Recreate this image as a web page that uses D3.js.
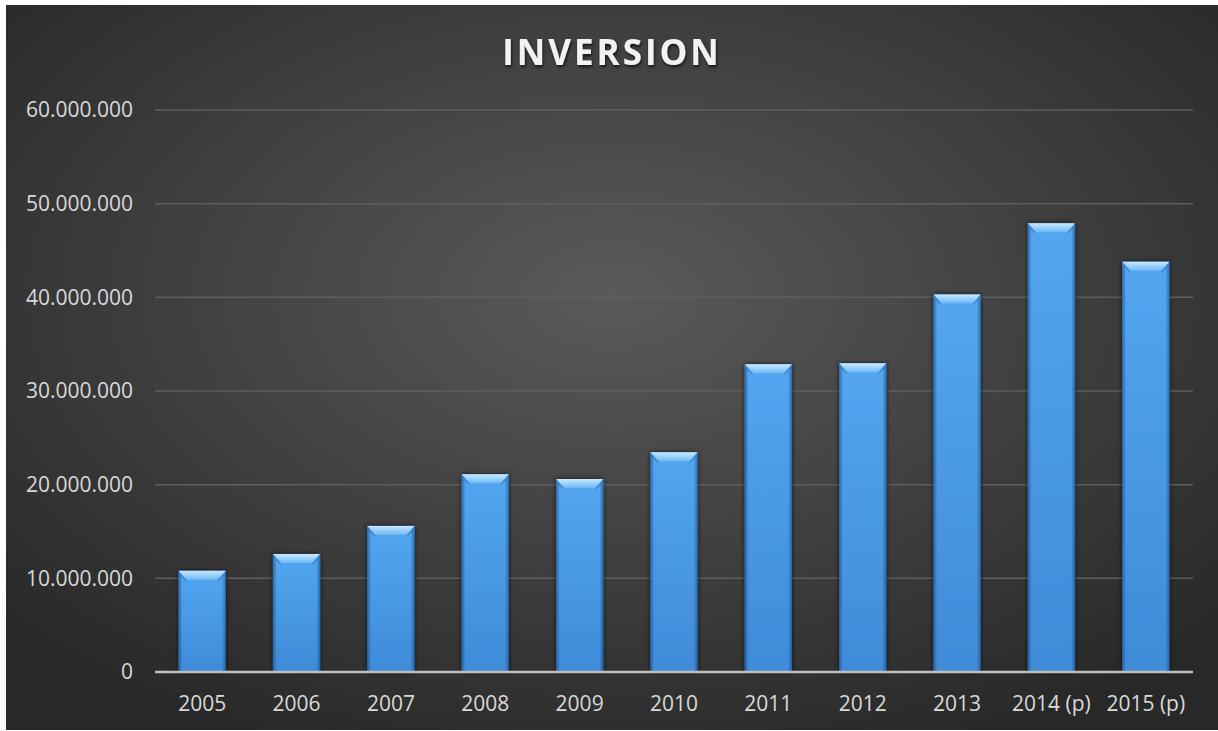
<!DOCTYPE html>
<html><head><meta charset="utf-8">
<script src="https://cdn.jsdelivr.net/npm/d3@7"></script>
<style>html,body{margin:0;padding:0;background:#fff;}svg{display:block;}</style>
</head><body>
<svg id="c" width="1218" height="731"></svg>
<script>
const categories = ["2005","2006","2007","2008","2009","2010","2011","2012","2013","2014 (p)","2015 (p)"];
const values = [10800000,12600000,15600000,21100000,20600000,23450000,32850000,32950000,40300000,47900000,43800000];
const yTicks = [0,10000000,20000000,30000000,40000000,50000000,60000000];
const title = "INVERSION";

const svg = d3.select("#c");
const defs = svg.append("defs");
const bg = defs.append("radialGradient").attr("id","bg").attr("cx","50%").attr("cy","40%").attr("r","68%");
bg.append("stop").attr("offset","0%").attr("stop-color","#5a5a5a");
bg.append("stop").attr("offset","100%").attr("stop-color","#282828");
const bv = defs.append("linearGradient").attr("id","bv").attr("x1",0).attr("x2",0).attr("y1",0).attr("y2",1);
bv.append("stop").attr("offset","0%").attr("stop-color","#53a6f0");
bv.append("stop").attr("offset","100%").attr("stop-color","#3f8bd8");
const bh = defs.append("linearGradient").attr("id","bh").attr("x1",0).attr("x2",1).attr("y1",0).attr("y2",0);
bh.append("stop").attr("offset","0%").attr("stop-color","#0a3a70").attr("stop-opacity",0.55);
bh.append("stop").attr("offset","8%").attr("stop-color","#0a3a70").attr("stop-opacity",0.0);
bh.append("stop").attr("offset","92%").attr("stop-color","#0a3a70").attr("stop-opacity",0.0);
bh.append("stop").attr("offset","100%").attr("stop-color","#0a3a70").attr("stop-opacity",0.55);
const tg = defs.append("linearGradient").attr("id","tg").attr("x1",0).attr("x2",0).attr("y1",0).attr("y2",1);
tg.append("stop").attr("offset","0%").attr("stop-color","#c8e8ff");
tg.append("stop").attr("offset","100%").attr("stop-color","#6cb8f5");
const sh = defs.append("filter").attr("id","sh").attr("x","-30%").attr("y","-10%").attr("width","160%").attr("height","120%");
sh.append("feDropShadow").attr("dx",0).attr("dy",0).attr("stdDeviation",2.5).attr("flood-color","#000").attr("flood-opacity",0.7);
const ts = defs.append("filter").attr("id","ts").attr("x","-10%").attr("y","-30%").attr("width","120%").attr("height","160%");
ts.append("feDropShadow").attr("dx",1).attr("dy",2).attr("stdDeviation",1.5).attr("flood-color","#000").attr("flood-opacity",0.7);

svg.append("rect").attr("x",6).attr("y",5).attr("width",1212).attr("height",725).attr("fill","url(#bg)");

const x = d3.scaleBand().domain(categories).range([155,1193]).paddingInner(0.5).paddingOuter(0.25);
const y = d3.scaleLinear().domain([0,60000000]).range([672,110]);
const fmt = v => d3.format(",")(v).replace(/,/g,".");

// gridlines
svg.append("g").selectAll("line").data(yTicks.filter(d=>d>0)).join("line")
  .attr("x1",155).attr("x2",1193).attr("y1",d=>y(d)).attr("y2",d=>y(d))
  .attr("stroke","#5e5e5e").attr("stroke-width",1.5);

// y labels
svg.append("g").selectAll("text").data(yTicks).join("text")
  .attr("x",133).attr("y",d=>y(d)).attr("dy","0.35em").attr("text-anchor","end")
  .attr("font-family","Open Sans").attr("font-size",21).attr("fill","#d9d9d9").text(fmt);

// bars
const bars = svg.append("g").selectAll("g").data(categories.map((c,i)=>({c,v:values[i]}))).join("g");
bars.append("rect").attr("x",d=>x(d.c)).attr("y",d=>y(d.v)).attr("width",x.bandwidth()).attr("height",d=>y(0)-y(d.v))
  .attr("fill","url(#bv)").attr("filter","url(#sh)");
bars.append("rect").attr("x",d=>x(d.c)).attr("y",d=>y(d.v)).attr("width",x.bandwidth()).attr("height",d=>y(0)-y(d.v))
  .attr("fill","url(#bh)");
const bvH = 9, bvI = 8;
bars.append("path").attr("d",d=>{
  const x0=x(d.c), x1=x0+x.bandwidth(), t=y(d.v);
  return `M${x0},${t}L${x1},${t}L${x1-bvI},${t+bvH}L${x0+bvI},${t+bvH}Z`;
}).attr("fill","url(#tg)");
bars.append("path").attr("d",d=>{
  const x0=x(d.c), t=y(d.v);
  return `M${x0},${t}L${x0+bvI},${t+bvH}L${x0+bvI},${t+bvH+2}L${x0},${t+4}Z`;
}).attr("fill","#2f7fd0").attr("opacity",0.6);
bars.append("path").attr("d",d=>{
  const x1=x(d.c)+x.bandwidth(), t=y(d.v);
  return `M${x1},${t}L${x1-bvI},${t+bvH}L${x1-bvI},${t+bvH+2}L${x1},${t+4}Z`;
}).attr("fill","#2f7fd0").attr("opacity",0.6);

// axis line
svg.append("line").attr("x1",155).attr("x2",1193).attr("y1",y(0)).attr("y2",y(0))
  .attr("stroke","#bfbfbf").attr("stroke-width",2.5);

// x labels
svg.append("g").selectAll("text").data(categories).join("text")
  .attr("x",d=>x(d)+x.bandwidth()/2).attr("y",711).attr("text-anchor","middle")
  .attr("font-family","Open Sans").attr("font-size",21).attr("fill","#d9d9d9").text(d=>d);

// title
svg.append("text").attr("x",612).attr("y",65).attr("text-anchor","middle")
  .attr("font-family","Open Sans").attr("font-weight","bold").attr("font-size",35)
  .attr("letter-spacing",3).attr("fill","#f2f2f2").attr("filter","url(#ts)").text(title);
</script>
</body></html>
